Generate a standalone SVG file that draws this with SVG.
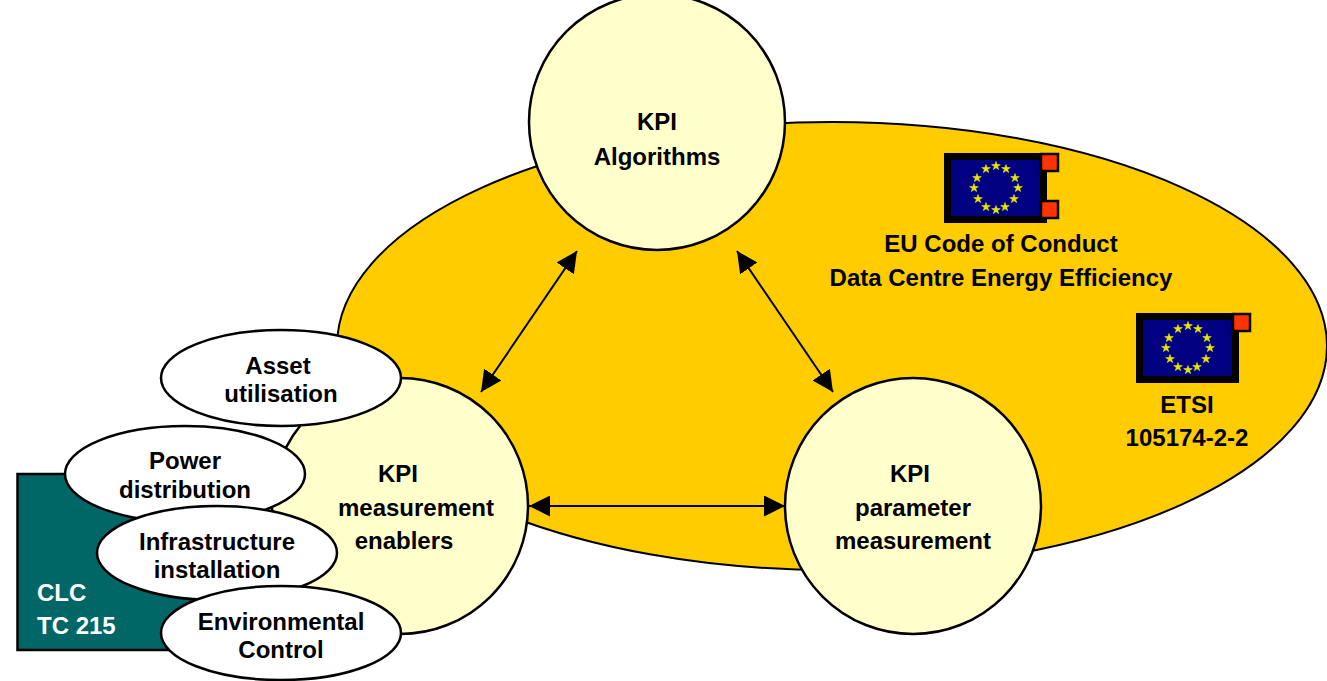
<svg xmlns="http://www.w3.org/2000/svg" width="1327" height="681" viewBox="0 0 1327 681">
<style>
text{font-family:"Liberation Sans",Arial,sans-serif;font-weight:700;font-size:24px;text-anchor:middle;fill:#000}
text.l{text-anchor:start;fill:#fff}
.o{stroke:#000;stroke-width:2.5px}
.y{fill:#ffffcc}
.w{fill:#fff}
.c{stroke:#000;stroke-width:2px;fill:none;marker-start:url(#a);marker-end:url(#a)}
.r{fill:#ff3300;stroke:#000;stroke-width:2.5px}
</style>
<defs>
<marker id="a" viewBox="0 0 10 10" refX="10" refY="5" markerUnits="userSpaceOnUse" markerWidth="21" markerHeight="21" orient="auto-start-reverse"><path d="M0 0L10 5L0 10Z" fill="#000"/></marker>
<path id="st" d="M0-4.5L1.1-1.4L4.3-1.4L1.7 .5L2.7 3.6L0 1.7L-2.7 3.6L-1.7 .5L-4.3-1.4L-1.1-1.4Z" fill="#e6e600" stroke="#e6e600" stroke-width=".6"/>
<g id="flag">
<rect x="3" y="3" width="100" height="67" fill="#666600"/>
<rect x="3.5" y="3.500" width="96" height="63" fill="#000080" stroke="#000" stroke-width="7"/>
<use href="#st" x="52" y="13"/><use href="#st" x="62" y="16"/><use href="#st" x="71" y="25"/><use href="#st" x="74" y="35"/><use href="#st" x="70" y="46"/><use href="#st" x="61" y="54"/><use href="#st" x="52" y="57"/><use href="#st" x="42" y="54"/><use href="#st" x="34" y="46"/><use href="#st" x="30" y="35"/><use href="#st" x="33" y="25"/><use href="#st" x="42" y="16"/>
</g>
</defs>
<g id="etsi-oval"><ellipse cx="832" cy="346" rx="495" ry="224" fill="#ffcc00" stroke="#000" stroke-width="2"/></g>
<g id="clc"><rect x="17.500" y="474" width="180" height="176" fill="#006666" stroke="#000" stroke-width="2.500"/><text x="37" y="601" class="l">CLC</text><text x="37" y="634" class="l">TC 215</text></g>
<g id="kpi-algorithms"><circle cx="657" cy="122" r="128" class="y o"/><text x="657" y="130">KPI</text><text x="657" y="165">Algorithms</text></g>
<g id="kpi-enablers"><circle cx="400" cy="506" r="128" class="y o"/><text x="398" y="482">KPI</text><text x="416" y="516">measurement</text><text x="404" y="549">enablers</text></g>
<g id="kpi-parameter"><circle cx="913" cy="506" r="128" class="y o"/><text x="910" y="482">KPI</text><text x="913" y="516">parameter</text><text x="913" y="549">measurement</text></g>
<g id="connectors">
<path class="c" d="M577 251L481 392"/>
<path class="c" d="M737 251L833 392"/>
<path class="c" d="M529 506L785 506"/>
</g>
<g id="eu-code"><use href="#flag" x="944" y="153"/><rect x="1041" y="154" width="17" height="17" class="r"/><rect x="1041" y="201" width="17" height="17" class="r"/><text x="1001" y="252">EU Code of Conduct</text><text x="1001" y="286">Data Centre Energy Efficiency</text></g>
<g id="etsi"><use href="#flag" x="1136" y="313"/><rect x="1233" y="314" width="17" height="17" class="r"/><text x="1187" y="413">ETSI</text><text x="1187" y="446">105174-2-2</text></g>
<g id="asset"><ellipse cx="281" cy="378" rx="120" ry="48" class="w o"/><text x="278" y="374">Asset</text><text x="281" y="402">utilisation</text></g>
<g id="power"><ellipse cx="185" cy="474" rx="120" ry="48" class="w o"/><text x="185" y="469">Power</text><text x="185" y="498">distribution</text></g>
<g id="infrastructure"><ellipse cx="217" cy="553" rx="120" ry="47" class="w o"/><text x="217" y="550">Infrastructure</text><text x="217" y="578">installation</text></g>
<g id="environmental"><ellipse cx="281" cy="633" rx="120" ry="47" class="w o"/><text x="281" y="630">Environmental</text><text x="281" y="658">Control</text></g>
</svg>
